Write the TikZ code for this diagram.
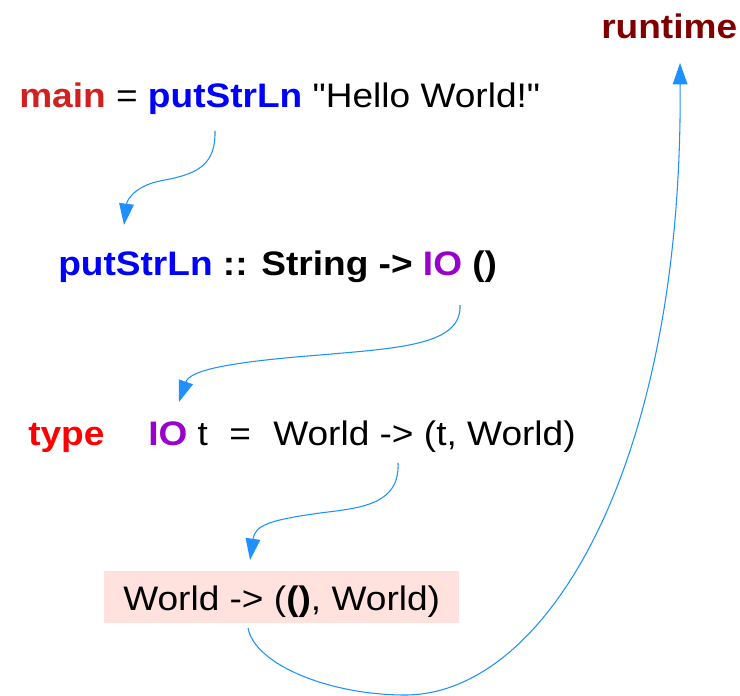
\documentclass[tikz,border=0pt]{standalone}
\usepackage{fontspec}
\newfontfamily\codefont{Liberation Sans}[FakeStretch=1.09]
\usetikzlibrary{arrows.meta}
\definecolor{mainred}{HTML}{D02020}
\definecolor{keyred}{HTML}{FF0000}
\definecolor{fnblue}{HTML}{0000FF}
\definecolor{iopurple}{HTML}{9A00CC}
\definecolor{rtmaroon}{HTML}{800000}
\definecolor{boxpink}{HTML}{FFE1DE}
\definecolor{flow}{HTML}{1E90FF}
\begin{document}
\begin{tikzpicture}[x=0.75pt,y=-0.75pt,
  txt/.style={anchor=base west, inner sep=0pt, font=\codefont\fontsize{25.5}{30}\selectfont},
  flowarrow/.style={draw=flow, line width=0.8pt, -{Triangle[length=16pt,width=11pt]}, fill=none}]
\useasboundingbox (0,0) rectangle (740,696);

% code lines
\node[txt] (mainline) at (19,107) {\textbf{\color{mainred}main} = \textbf{\color{fnblue}putStrLn} "Hello World!"};
\node[txt] (sigline) at (58,275) {\bfseries{\color{fnblue}putStrLn} :: String -> {\color{iopurple}IO} ()};
\node[txt] (kwtype) at (28,445) {\textbf{\color{keyred}type}};
\node[txt] (iot) at (148,445) {\textbf{\color{iopurple}IO} t};
\node[txt] (eqsign) at (229,445) {=};
\node[txt] (worldfn) at (273,445) {World -> (t, World)};
\node[txt, fill=boxpink, inner xsep=14.25pt, inner ysep=0pt,
      text height=29.25pt, text depth=9.75pt] (worldbox) at (104,610)
      {World -> (\textbf{()}, World)};
\node[txt] (runtime) at (601,38) {\textbf{\color{rtmaroon}runtime}};

% connector end points
\coordinate (a1s) at (215,131);
\coordinate (a1e) at (124,225);
\coordinate (a2s) at (460,305);
\coordinate (a2e) at (179,402);
\coordinate (a3s) at (398,463);
\coordinate (a3e) at (250,560);
\coordinate (a4s) at (248,628);
\coordinate (a4e) at (680,63);

% flow arrows
\draw[flowarrow] (a1s) .. controls (216,170) and (190,175) .. (160,181)
                       .. controls (135,186) and (127,200) .. (a1e);
\draw[flowarrow] (a2s) .. controls (462,345) and (400,348) .. (320,355)
                       .. controls (230,362) and (190,370) .. (a2e);
\draw[flowarrow] (a3s) .. controls (400,505) and (360,508) .. (320,513)
                       .. controls (270,520) and (255,525) .. (a3e);
\draw[flowarrow] (a4s) .. controls (255,665) and (330,695) .. (405,695)
                       .. controls (545,695) and (683,470) .. (a4e);
\end{tikzpicture}
\end{document}
